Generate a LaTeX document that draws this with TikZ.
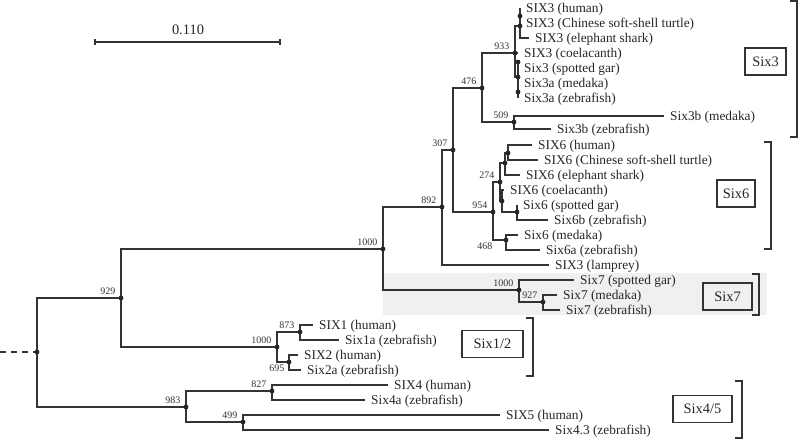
\documentclass[tikz,border=0pt]{standalone}
\usepackage{fontspec}
\setmainfont{Liberation Serif}

\begin{document}
\begin{tikzpicture}[x=1bp, y=-1bp,
    branch/.style={line width=1.3bp, black!80},
    leaf/.style={anchor=west, inner xsep=6bp, inner ysep=0bp, text height=9.2bp, text depth=0.5bp,
        text=black!85, font=\fontsize{13.4}{14}\selectfont},
    boot/.style={anchor=south east, inner sep=0bp, xshift=-5.5bp, yshift=3.5bp,
        text=black!80, font=\fontsize{10}{10}\selectfont},
    bootb/.style={anchor=north east, inner sep=0bp, xshift=-4.5bp, yshift=-2.5bp,
        text=black!80, font=\fontsize{10}{10}\selectfont},
    clade/.style={draw=black!80, line width=1.3bp, minimum height=27bp, inner sep=2bp,
        text=black!85, font=\fontsize{14.5}{15}\selectfont},
    bracket/.style={line width=1.3bp, black!80},
    ]
    \useasboundingbox (0,0) rectangle (799,441);

    % Six7 shading
    \fill [black!6] (383,273) rectangle (767,315);

    % internal nodes
    \coordinate (stem) at (0,352);
    \coordinate (root) at (37,352);
    \coordinate (n929) at (121,298);
    \coordinate (n1000a) at (383,249);
    \coordinate (n892) at (442,207);
    \coordinate (n307) at (453,150);
    \coordinate (n476) at (482,88);
    \coordinate (n933) at (515,53);
    \coordinate (s3a) at (520,16);
    \coordinate (s3b) at (520,26);
    \coordinate (s3c) at (518,77);
    \coordinate (s3d) at (518,62);
    \coordinate (s3e) at (518,92);
    \coordinate (n509) at (514,122);
    \coordinate (n954) at (493,212);
    \coordinate (n274) at (500,182);
    \coordinate (s6a) at (505,163);
    \coordinate (s6b) at (508,153);
    \coordinate (s6c) at (502,201);
    \coordinate (s6d) at (517,212);
    \coordinate (n468) at (506,240);
    \coordinate (n1000b) at (519,290);
    \coordinate (n927) at (543,302);
    \coordinate (n1000c) at (277,347);
    \coordinate (n873) at (300,332);
    \coordinate (n695) at (289,362);
    \coordinate (n983) at (186,407);
    \coordinate (n827) at (272,391);
    \coordinate (n499) at (243,422);

    % leaves
    \node [leaf] (hum3) at (520,8) {SIX3 (human)};
    \node [leaf] (tur3) at (520,23) {SIX3 (Chinese soft-shell turtle)};
    \node [leaf] (esh3) at (529,38) {SIX3 (elephant shark)};
    \node [leaf] (coe3) at (518,53) {SIX3 (coelacanth)};
    \node [leaf] (gar3) at (518,68) {Six3 (spotted gar)};
    \node [leaf] (med3a) at (518,83) {Six3a (medaka)};
    \node [leaf] (zeb3a) at (518,98) {Six3a (zebrafish)};
    \node [leaf] (med3b) at (664,116) {Six3b (medaka)};
    \node [leaf] (zeb3b) at (551,129) {Six3b (zebrafish)};
    \node [leaf] (hum6) at (532,145) {SIX6 (human)};
    \node [leaf] (tur6) at (538,160) {SIX6 (Chinese soft-shell turtle)};
    \node [leaf] (esh6) at (520,175) {SIX6 (elephant shark)};
    \node [leaf] (coe6) at (504,190) {SIX6 (coelacanth)};
    \node [leaf] (gar6) at (517,205) {Six6 (spotted gar)};
    \node [leaf] (zeb6b) at (548,220) {Six6b (zebrafish)};
    \node [leaf] (med6) at (518,235) {Six6 (medaka)};
    \node [leaf] (zeb6a) at (540,250) {Six6a (zebrafish)};
    \node [leaf] (lam3) at (549,265) {SIX3 (lamprey)};
    \node [leaf] (gar7) at (574,280) {Six7 (spotted gar)};
    \node [leaf] (med7) at (557,295) {Six7 (medaka)};
    \node [leaf] (zeb7) at (560,310) {Six7 (zebrafish)};
    \node [leaf] (hum1) at (313,325) {SIX1 (human)};
    \node [leaf] (zeb1a) at (339,340) {Six1a (zebrafish)};
    \node [leaf] (hum2) at (298,355) {SIX2 (human)};
    \node [leaf] (zeb2a) at (301,370) {Six2a (zebrafish)};
    \node [leaf] (hum4) at (388,385) {SIX4 (human)};
    \node [leaf] (zeb4a) at (365,400) {Six4a (zebrafish)};
    \node [leaf] (hum5) at (500,415) {SIX5 (human)};
    \node [leaf] (zeb43) at (549,430) {Six4.3 (zebrafish)};

    % branches
    \draw [branch, dash pattern=on 6bp off 5bp] (stem) -- (root);
    \draw [branch] (root) |- (n929);
    \draw [branch] (root) |- (n983);
    \draw [branch] (n929) |- (n1000a);
    \draw [branch] (n929) |- (n1000c);
    \draw [branch] (n1000a) |- (n892);
    \draw [branch] (n1000a) |- (n1000b);
    \draw [branch] (n892) |- (n307);
    \draw [branch] (n892) |- (lam3);
    \draw [branch] (n307) |- (n476);
    \draw [branch] (n307) |- (n954);
    \draw [branch] (n476) |- (n933);
    \draw [branch] (n476) |- (n509);
    \draw [branch] (n933) |- (s3b);
    \draw [branch] (n933) -- (coe3);
    \draw [branch] (n933) |- (s3c);
    \draw [branch] (s3b) -- (s3a);
    \draw [branch] (s3a) |- (hum3);
    \draw [branch] (s3a) |- (tur3);
    \draw [branch] (s3b) |- (esh3);
    \draw [branch] (s3c) -- (s3d);
    \draw [branch] (s3c) -- (s3e);
    \draw [branch] (s3d) |- (gar3);
    \draw [branch] (s3e) |- (med3a);
    \draw [branch] (s3e) |- (zeb3a);
    \draw [branch] (n509) |- (med3b);
    \draw [branch] (n509) |- (zeb3b);
    \draw [branch] (n954) |- (n274);
    \draw [branch] (n954) |- (n468);
    \draw [branch] (n274) |- (s6a);
    \draw [branch] (n274) |- (s6c);
    \draw [branch] (s6a) |- (s6b);
    \draw [branch] (s6a) |- (esh6);
    \draw [branch] (s6b) |- (hum6);
    \draw [branch] (s6b) |- (tur6);
    \draw [branch] (s6c) |- (coe6);
    \draw [branch] (s6c) |- (s6d);
    \draw [branch] (s6d) |- (gar6);
    \draw [branch] (s6d) |- (zeb6b);
    \draw [branch] (n468) |- (med6);
    \draw [branch] (n468) |- (zeb6a);
    \draw [branch] (n1000b) |- (gar7);
    \draw [branch] (n1000b) |- (n927);
    \draw [branch] (n927) |- (med7);
    \draw [branch] (n927) |- (zeb7);
    \draw [branch] (n1000c) |- (n873);
    \draw [branch] (n1000c) |- (n695);
    \draw [branch] (n873) |- (hum1);
    \draw [branch] (n873) |- (zeb1a);
    \draw [branch] (n695) |- (hum2);
    \draw [branch] (n695) |- (zeb2a);
    \draw [branch] (n983) |- (n827);
    \draw [branch] (n983) |- (n499);
    \draw [branch] (n827) |- (hum4);
    \draw [branch] (n827) |- (zeb4a);
    \draw [branch] (n499) |- (hum5);
    \draw [branch] (n499) |- (zeb43);

    \foreach \n in {root,n929,n1000a,n892,n307,n476,n933,s3a,s3b,s3c,s3d,s3e,n509,
        n954,n274,s6a,s6b,s6c,s6d,n468,n1000b,n927,n1000c,n873,n695,n983,n827,n499}
        \fill [black!85] (\n) circle (2.4bp);

    % bootstrap values
    \node [boot] (b929) at (n929) {929};
    \node [boot] (b1000a) at (n1000a) {1000};
    \node [boot] (b892) at (n892) {892};
    \node [boot] (b307) at (n307) {307};
    \node [boot] (b476) at (n476) {476};
    \node [boot] (b933) at (n933) {933};
    \node [boot] (b509) at (n509) {509};
    \node [boot] (b954) at (n954) {954};
    \node [boot] (b274) at (n274) {274};
    \node [bootb, xshift=-9bp] (b468) at (n468) {468};
    \node [boot] (b1000b) at (n1000b) {1000};
    \node [boot] (b927) at (n927) {927};
    \node [boot] (b1000c) at (n1000c) {1000};
    \node [boot] (b873) at (n873) {873};
    \node [bootb] (b695) at (n695) {695};
    \node [boot] (b983) at (n983) {983};
    \node [boot] (b827) at (n827) {827};
    \node [boot] (b499) at (n499) {499};

    % clades
    \node [clade, minimum width=41bp] (c3) at (765.5,61.5) {Six3};
    \node [clade, minimum width=38bp] (c6) at (736,193.5) {Six6};
    \node [clade, minimum width=49bp] (c7) at (727.5,296.5) {Six7};
    \node [clade, minimum width=61bp] (c12) at (492.5,344) {Six1/2};
    \node [clade, minimum width=59bp] (c45) at (702.5,409) {Six4/5};
    \draw [bracket] (790,1) -- (797,1) -- (797,137) -- (790,137);
    \draw [bracket] (764,142) -- (771,142) -- (771,249) -- (764,249);
    \draw [bracket] (752,274) -- (759,274) -- (759,315) -- (752,315);
    \draw [bracket] (526,318) -- (533,318) -- (533,376) -- (526,376);
    \draw [bracket] (735,381) -- (742,381) -- (742,438) -- (735,438);

    % scale bar
    \coordinate (sbl) at (95,42);
    \coordinate (sbr) at (280,42);
    \draw [branch] (sbl) -- (sbr);
    \draw [branch] (95,39) -- (95,45);
    \draw [branch] (280,39) -- (280,45);
    \node [text=black!85, font=\fontsize{14.5}{15}\selectfont] (sbtxt) at (188,30) {0.110};
\end{tikzpicture}
\end{document}
